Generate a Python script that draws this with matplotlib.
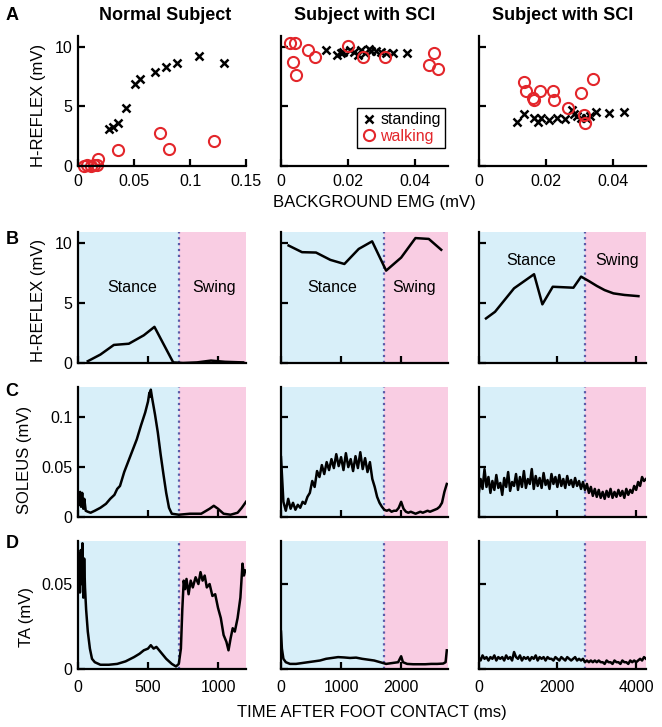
import numpy as np
import matplotlib.pyplot as plt

plt.rcParams['font.family'] = ['Liberation Sans', 'DejaVu Sans']

# ---- row A: H-reflex vs background EMG ----
stand_x = [
    [0.0273, 0.031, 0.036, 0.043, 0.051, 0.055, 0.069, 0.079, 0.088, 0.108, 0.130],
    [0.0134, 0.0167, 0.018, 0.0185, 0.0207, 0.0219, 0.0232, 0.024, 0.025, 0.0262,
     0.027, 0.0285, 0.030, 0.0315, 0.0335, 0.0376],
    [0.0115, 0.0137, 0.0165, 0.0177, 0.0185, 0.021, 0.0235, 0.0257, 0.028, 0.0285,
     0.0295, 0.0305, 0.032, 0.0333, 0.035, 0.039, 0.0435],
]
stand_y = [
    [3.1, 3.25, 3.6, 4.9, 6.9, 7.3, 7.9, 8.3, 8.6, 9.2, 8.6],
    [9.7, 9.3, 9.45, 9.55, 9.7, 9.6, 9.3, 9.7, 9.45, 9.85, 9.65, 9.65, 9.6, 9.5, 9.5, 9.45],
    [3.72, 4.37, 4.0, 3.72, 4.0, 3.87, 4.0, 3.92, 4.7, 4.4, 4.2, 4.05, 4.0, 4.2, 4.5, 4.45, 4.5],
]
walk_x = [
    [0.005, 0.008, 0.012, 0.014, 0.017, 0.018, 0.036, 0.073, 0.081, 0.121],
    [0.0028, 0.0041, 0.0036, 0.0046, 0.0081, 0.0102, 0.0202, 0.0245, 0.0312,
     0.0458, 0.0444, 0.0469],
    [0.0135, 0.0143, 0.0163, 0.0165, 0.0183, 0.0223, 0.0225, 0.0268, 0.0305,
     0.0315, 0.0317, 0.0342],
]
walk_y = [
    [0.0, 0.05, 0.0, 0.1, 0.05, 0.55, 1.3, 2.8, 1.45, 2.1],
    [10.3, 10.3, 8.75, 7.6, 9.7, 9.1, 10.1, 9.1, 9.1, 9.45, 8.5, 8.15],
    [7.08, 6.25, 5.7, 5.55, 6.3, 6.25, 5.55, 4.85, 6.1, 4.3, 3.6, 7.3],
]
emg_xmax = [0.15, 0.05, 0.05]
emg_ticks = [[0, 0.05, 0.1, 0.15], [0, 0.02, 0.04], [0, 0.02, 0.04]]
emg_ticklabels = [['0', '0.05', '0.1', '0.15'], ['0', '0.02', '0.04'], ['0', '0.02', '0.04']]

# ---- time axes ----
t_max = [1200, 2780, 4250]
swing_on = [720, 1720, 2690]
t_ticks = [[0, 500, 1000], [0, 1000, 2000], [0, 2000, 4000]]

# ---- row B: H-reflex during walking ----
hr_t = [
    [70, 160, 256, 363, 470, 546, 680, 750, 850, 950, 1050, 1180],
    [127, 350, 583, 822, 1055, 1294, 1517, 1750, 2000, 2238, 2460, 2667],
    [188, 417, 900, 1408, 1619, 1883, 2407, 2602, 2800, 3000, 3200, 3423, 3700, 4058],
]
hr_y = [
    [0.15, 0.7, 1.5, 1.6, 2.3, 3.0, 0.05, 0.0, 0.05, 0.2, 0.1, 0.05],
    [9.75, 9.2, 9.17, 8.56, 8.22, 9.47, 10.1, 7.67, 8.75, 10.37, 10.3, 9.4],
    [3.7, 4.25, 6.2, 7.37, 4.87, 6.33, 6.25, 7.17, 6.8, 6.4, 6.05, 5.78, 5.65, 5.55],
]

# ---- row C: soleus EMG ----
sol1_t = [0, 8, 15, 22, 30, 38, 45, 55, 70, 90, 120, 160, 200, 230, 260, 280, 300, 330,
          360, 390, 420, 450, 480, 500, 510, 515, 520, 530, 550, 570, 590, 610, 630, 650,
          670, 720, 800, 880, 940, 970, 1000, 1040, 1090, 1140, 1170, 1200]
sol1_y = [0.022, 0.012, 0.025, 0.010, 0.024, 0.008, 0.018, 0.006, 0.005, 0.004, 0.006,
          0.009, 0.013, 0.018, 0.022, 0.028, 0.031, 0.045, 0.056, 0.067, 0.078, 0.092,
          0.105, 0.116, 0.125, 0.121, 0.128, 0.119, 0.103, 0.085, 0.063, 0.043, 0.024,
          0.009, 0.003, 0.002, 0.003, 0.003, 0.008, 0.011, 0.008, 0.003, 0.002, 0.004,
          0.009, 0.015]
sol2_step = 40
sol2_y = [0.060, 0.015, 0.006, 0.018, 0.008, 0.014, 0.007, 0.012, 0.009, 0.015,
          0.013, 0.020, 0.024, 0.036, 0.030, 0.046, 0.040, 0.052, 0.043, 0.055,
          0.047, 0.058, 0.049, 0.063, 0.051, 0.060, 0.047, 0.064, 0.050, 0.058,
          0.046, 0.061, 0.049, 0.065, 0.048, 0.059, 0.045, 0.055, 0.038, 0.030,
          0.020, 0.014, 0.010, 0.007, 0.006, 0.007, 0.005, 0.006, 0.006, 0.009,
          0.015, 0.008, 0.005, 0.004, 0.005, 0.004, 0.003, 0.004, 0.005, 0.004,
          0.005, 0.006, 0.005, 0.006, 0.007, 0.008, 0.010, 0.014, 0.025, 0.033]
sol3_step = 50
sol3_y = [0.022, 0.038, 0.028, 0.048, 0.030, 0.040, 0.024, 0.036, 0.027, 0.042,
          0.029, 0.034, 0.022, 0.039, 0.030, 0.045, 0.026, 0.035, 0.031, 0.043,
          0.027, 0.040, 0.030, 0.046, 0.029, 0.038, 0.033, 0.048, 0.028, 0.041,
          0.031, 0.039, 0.029, 0.044, 0.032, 0.037, 0.028, 0.043, 0.033, 0.040,
          0.030, 0.042, 0.031, 0.038, 0.029, 0.041, 0.032, 0.037, 0.030, 0.039,
          0.031, 0.036, 0.028, 0.035, 0.027, 0.033, 0.024, 0.030, 0.021, 0.028,
          0.020, 0.027, 0.019, 0.025, 0.018, 0.026, 0.020, 0.028, 0.019, 0.025,
          0.020, 0.027, 0.021, 0.026, 0.019, 0.028, 0.022, 0.027, 0.024, 0.031,
          0.027, 0.035, 0.031, 0.040, 0.036, 0.038]

# ---- row D: TA EMG ----
ta1_t = [0, 8, 14, 20, 26, 32, 38, 44, 50, 58, 70, 85, 100, 120, 160, 220, 280, 340, 400,
         440, 470, 500, 520, 540, 560, 590, 630, 670, 700, 720, 735, 745, 755, 765, 775,
         790, 805, 820, 840, 860, 875, 890, 905, 920, 940, 960, 980, 1000, 1020, 1040,
         1060, 1075, 1090, 1105, 1120, 1140, 1160, 1175, 1185, 1195]
ta1_y = [0.058, 0.068, 0.045, 0.070, 0.050, 0.074, 0.042, 0.065, 0.048, 0.035, 0.022,
         0.012, 0.006, 0.004, 0.0025, 0.0025, 0.003, 0.0045, 0.007, 0.009, 0.011, 0.012,
         0.014, 0.012, 0.013, 0.010, 0.006, 0.003, 0.0015, 0.003, 0.012, 0.035, 0.052,
         0.047, 0.053, 0.044, 0.052, 0.048, 0.054, 0.050, 0.057, 0.052, 0.055, 0.048,
         0.050, 0.043, 0.044, 0.036, 0.030, 0.020, 0.016, 0.011, 0.018, 0.024, 0.022,
         0.030, 0.042, 0.062, 0.055, 0.058]
ta2_t = [0, 15, 40, 80, 150, 250, 350, 450, 550, 650, 750, 850, 950, 1050, 1150, 1250,
         1350, 1450, 1550, 1650, 1750, 1850, 1950, 2000, 2030, 2100, 2200, 2300, 2400,
         2500, 2600, 2700, 2740, 2760]
ta2_y = [0.022, 0.012, 0.006, 0.004, 0.003, 0.003, 0.0035, 0.004, 0.0045, 0.005, 0.006,
         0.0065, 0.007, 0.0068, 0.0065, 0.0067, 0.006, 0.0055, 0.005, 0.004, 0.003, 0.0035,
         0.004, 0.0075, 0.004, 0.003, 0.0028, 0.0028, 0.0028, 0.003, 0.003, 0.0032, 0.004,
         0.011]
ta3_step = 50
ta3_y = [0.007, 0.005, 0.008, 0.006, 0.007, 0.005, 0.007, 0.006, 0.008, 0.005,
         0.007, 0.006, 0.007, 0.005, 0.008, 0.006, 0.007, 0.005, 0.010, 0.007,
         0.006, 0.008, 0.005, 0.007, 0.006, 0.007, 0.005, 0.007, 0.006, 0.008,
         0.005, 0.007, 0.006, 0.007, 0.005, 0.007, 0.006, 0.006, 0.005, 0.007,
         0.006, 0.005, 0.007, 0.006, 0.005, 0.007, 0.006, 0.005, 0.006, 0.007,
         0.005, 0.006, 0.005, 0.006, 0.004, 0.005, 0.004, 0.005, 0.004, 0.005,
         0.004, 0.005, 0.004, 0.004, 0.003, 0.005, 0.004, 0.004, 0.003, 0.005,
         0.004, 0.004, 0.003, 0.005, 0.004, 0.004, 0.003, 0.005, 0.004, 0.005,
         0.004, 0.005, 0.006, 0.005, 0.007, 0.006]

sol_t = [sol1_t, np.arange(len(sol2_y)) * sol2_step, np.arange(len(sol3_y)) * sol3_step]
sol_y = [sol1_y, sol2_y, sol3_y]
ta_t = [ta1_t, ta2_t, np.arange(len(ta3_y)) * ta3_step]
ta_y = [ta1_y, ta2_y, ta3_y]

RED = '#e3262b'
BLUE_BG = '#d8eff9'
PINK_BG = '#f9cde3'
DOT = '#5a5aa8'

W, H = 662, 727
fig = plt.figure(figsize=(W / 100, H / 100), dpi=100)


def box(l, t, r, b):
    return [l / W, 1 - b / H, (r - l) / W, (b - t) / H]


cols = [(78, 246), (281, 448), (478.6, 646)]
rows = [(36, 166), (231.7, 363), (386.7, 516.7), (540.7, 669)]


def style(ax, xpad):
    for s in ['top', 'right']:
        ax.spines[s].set_visible(False)
    for s in ['left', 'bottom']:
        ax.spines[s].set_linewidth(1.6)
    ax.tick_params(direction='in', length=5, width=1.6, labelsize=11.5)
    ax.tick_params(axis='y', pad=4)
    ax.tick_params(axis='x', pad=xpad)


for j in range(3):
    l, r = cols[j]
    # row A
    ax = fig.add_axes(box(l, rows[0][0], r, rows[0][1]))
    style(ax, 6)
    hs, = ax.plot(stand_x[j], stand_y[j], 'x', color='black', ms=6, mew=1.8, label='standing')
    hw, = ax.plot(walk_x[j], walk_y[j], 'o', mfc='none', mec=RED, ms=8, mew=1.5,
                  label='walking', clip_on=False)
    ax.set_xlim(0, emg_xmax[j])
    ax.set_ylim(0, 10.9)
    ax.set_xticks(emg_ticks[j])
    ax.set_xticklabels(emg_ticklabels[j])
    ax.set_yticks([0, 5, 10])
    if j > 0:
        ax.set_yticklabels([])
    if j == 1:
        leg = ax.legend(handles=[hs, hw], loc='lower right', bbox_to_anchor=(0.98, 0.14),
                        fancybox=False, edgecolor='black', framealpha=1, fontsize=11.5,
                        handletextpad=0.2, borderpad=0.25, labelspacing=0.1,
                        handlelength=1.0, borderaxespad=0)
        leg.get_frame().set_linewidth(1.0)
        leg.get_texts()[1].set_color(RED)

    # rows B, C, D
    series = [(hr_t[j], hr_y[j], 10.9, [0, 5, 10], ['0', '5', '10']),
              (sol_t[j], sol_y[j], 0.131, [0, 0.05, 0.1], ['0', '0.05', '0.1']),
              (ta_t[j], ta_y[j], 0.0755, [0, 0.05], ['0', '0.05'])]
    for i, (tt, yy, ytop, yt, ytl) in enumerate(series):
        ax = fig.add_axes(box(l, rows[i + 1][0], r, rows[i + 1][1]))
        style(ax, 8)
        ax.axvspan(0, swing_on[j], color=BLUE_BG, lw=0, zorder=0)
        ax.axvspan(swing_on[j], t_max[j], color=PINK_BG, lw=0, zorder=0)
        ax.axvline(swing_on[j], color=DOT, ls=':', lw=1.6, zorder=1)
        ax.plot(tt, yy, color='black', lw=1.8, zorder=2)
        ax.set_xlim(0, t_max[j])
        ax.set_ylim(0, ytop)
        ax.set_xticks(t_ticks[j])
        ax.set_yticks(yt)
        if j == 0:
            ax.set_yticklabels(ytl)
        else:
            ax.set_yticklabels([])
        if i < 2:
            ax.set_xticklabels([])
        if i == 0:
            sx = [384, 855, 1339][j]
            wx = [973, 2222, 3522][j]
            ty = [6.3, 6.3, 8.5][j]
            ax.text(sx, ty, 'Stance', ha='center', va='center', fontsize=11.5)
            ax.text(wx, ty, 'Swing', ha='center', va='center', fontsize=11.5)

# titles
for x, s in [(165, 'Normal Subject'), (365, 'Subject with SCI'), (563, 'Subject with SCI')]:
    fig.text(x / W, 1 - 15 / H, s, ha='center', va='center', fontsize=13, fontweight='bold')

# panel letters
for y, s in [(15, 'A'), (239, 'B'), (392, 'C'), (543, 'D')]:
    fig.text(12 / W, 1 - y / H, s, ha='center', va='center', fontsize=13, fontweight='bold')

# axis labels
fig.text(374 / W, 1 - 202 / H, 'BACKGROUND EMG (mV)', ha='center', va='center', fontsize=12)
fig.text(372 / W, 1 - 712 / H, 'TIME AFTER FOOT CONTACT (ms)', ha='center', va='center', fontsize=12)
fig.text(38 / W, 1 - 105 / H, 'H-REFLEX (mV)', ha='center', va='center', rotation=90, fontsize=12)
fig.text(38 / W, 1 - 300 / H, 'H-REFLEX (mV)', ha='center', va='center', rotation=90, fontsize=12)
fig.text(24 / W, 1 - 460 / H, 'SOLEUS (mV)', ha='center', va='center', rotation=90, fontsize=12)
fig.text(26 / W, 1 - 617 / H, 'TA (mV)', ha='center', va='center', rotation=90, fontsize=12)

fig.savefig('out.png', dpi=100)
